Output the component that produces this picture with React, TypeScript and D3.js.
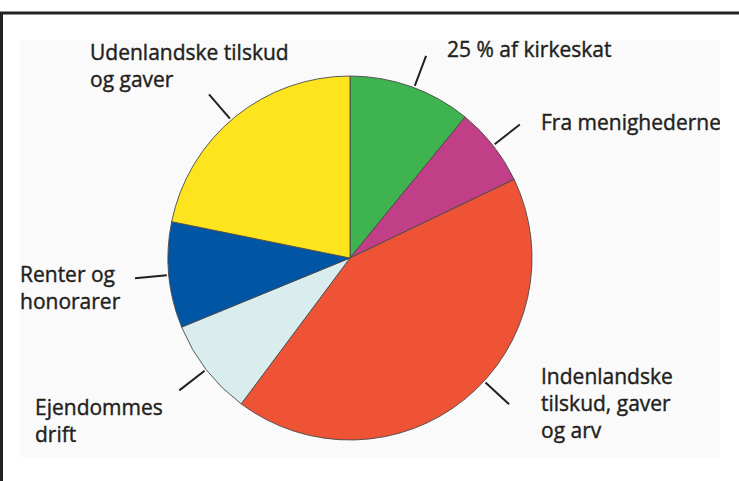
import React, { useEffect, useRef } from 'react';
import * as d3 from 'd3';

// slices clockwise from 12 o'clock (shares in %)
const categories = [
    '25 % af kirkeskat',
    'Fra menighederne',
    'Indenlandske tilskud, gaver og arv',
    'Ejendommes drift',
    'Renter og honorarer',
    'Udenlandske tilskud og gaver',
];
const shares = [10.9, 7.0, 42.3, 8.6, 9.4, 21.8];
const colors = ['#3fb34f', '#c13f86', '#ee5336', '#d9ecee', '#0055a5', '#fde41e'];

// label text, split in lines
const labelLines = [
    ['25 % af kirkeskat'],
    ['Fra menighederne'],
    ['Indenlandske', 'tilskud, gaver', 'og arv'],
    ['Ejendommes', 'drift'],
    ['Renter og', 'honorarer'],
    ['Udenlandske tilskud', 'og gaver'],
];

// layout for the labels (not data)
const labelPos = [
    { x: 447, y: 57 },
    { x: 541, y: 130 },
    { x: 541, y: 384 },
    { x: 35, y: 415 },
    { x: 20, y: 282 },
    { x: 90, y: 60 },
];
const leaderShift = [1, 0, -8, 0, 0, -1.5]; // degrees

const W = 739;
const H = 481;

export default function App() {
    const svgRef = useRef<SVGSVGElement | null>(null);

    useEffect(() => {
        const svg = d3.select(svgRef.current);
        svg.selectAll('*').remove();

        const cx = 350, cy = 258, r = 182;
        const lineH = 27;

        svg.append('rect').attr('width', W).attr('height', H).attr('fill', '#fff');

        // frame
        svg.append('rect')
            .attr('x', 20).attr('y', 40).attr('width', 700).attr('height', 417)
            .attr('fill', '#fafafa');
        svg.append('line')
            .attr('x1', 0).attr('x2', W).attr('y1', 13).attr('y2', 13)
            .attr('stroke', '#222').attr('stroke-width', 3);
        svg.append('line')
            .attr('x1', 1.5).attr('x2', 1.5).attr('y1', 12).attr('y2', H)
            .attr('stroke', '#222').attr('stroke-width', 3);

        const data = categories.map((c, i) => ({ name: c, value: shares[i], i }));
        const pie = d3.pie<any>().value(d => d.value).sort(null);
        const arc = d3.arc<any>().innerRadius(0).outerRadius(r);
        const arcs = pie(data);

        const g = svg.append('g').attr('transform', `translate(${cx},${cy})`);
        g.selectAll('path')
            .data(arcs)
            .join('path')
            .attr('d', arc)
            .attr('fill', d => colors[d.data.i])
            .attr('stroke', '#4a4a4a')
            .attr('stroke-width', 0.9);

        // leader lines
        g.selectAll('line.lead')
            .data(arcs)
            .join('line')
            .attr('class', 'lead')
            .each(function (d) {
                const a = (d.startAngle + d.endAngle) / 2 + (leaderShift[d.data.i] * Math.PI) / 180;
                const r0 = r + 2, r1 = r + 34;
                d3.select(this)
                    .attr('x1', r0 * Math.sin(a)).attr('y1', -r0 * Math.cos(a))
                    .attr('x2', r1 * Math.sin(a)).attr('y2', -r1 * Math.cos(a));
            })
            .attr('stroke', '#231f20')
            .attr('stroke-width', 2);

        // labels, clipped by the inner panel
        const clip = svg.append('clipPath').attr('id', 'panel');
        clip.append('rect').attr('x', 20).attr('y', 0).attr('width', 700).attr('height', H);

        const lab = svg.append('g').attr('clip-path', 'url(#panel)');
        labelLines.forEach((lines, i) => {
            const t = lab.append('text')
                .attr('x', labelPos[i].x)
                .attr('y', labelPos[i].y)
                .attr('fill', '#231f20')
                .attr('stroke', '#231f20')
                .attr('stroke-width', 0.4)
                .style('font-family', '"Open Sans", sans-serif')
                .style('font-size', '21px');
            lines.forEach((s, k) => {
                t.append('tspan')
                    .attr('x', labelPos[i].x)
                    .attr('y', labelPos[i].y + k * lineH)
                    .text(s);
            });
        });
    }, []);

    return (
        <svg ref={svgRef} width={W} height={H}
            style={{ position: 'fixed', left: 0, top: 0, display: 'block' }} />
    );
}
